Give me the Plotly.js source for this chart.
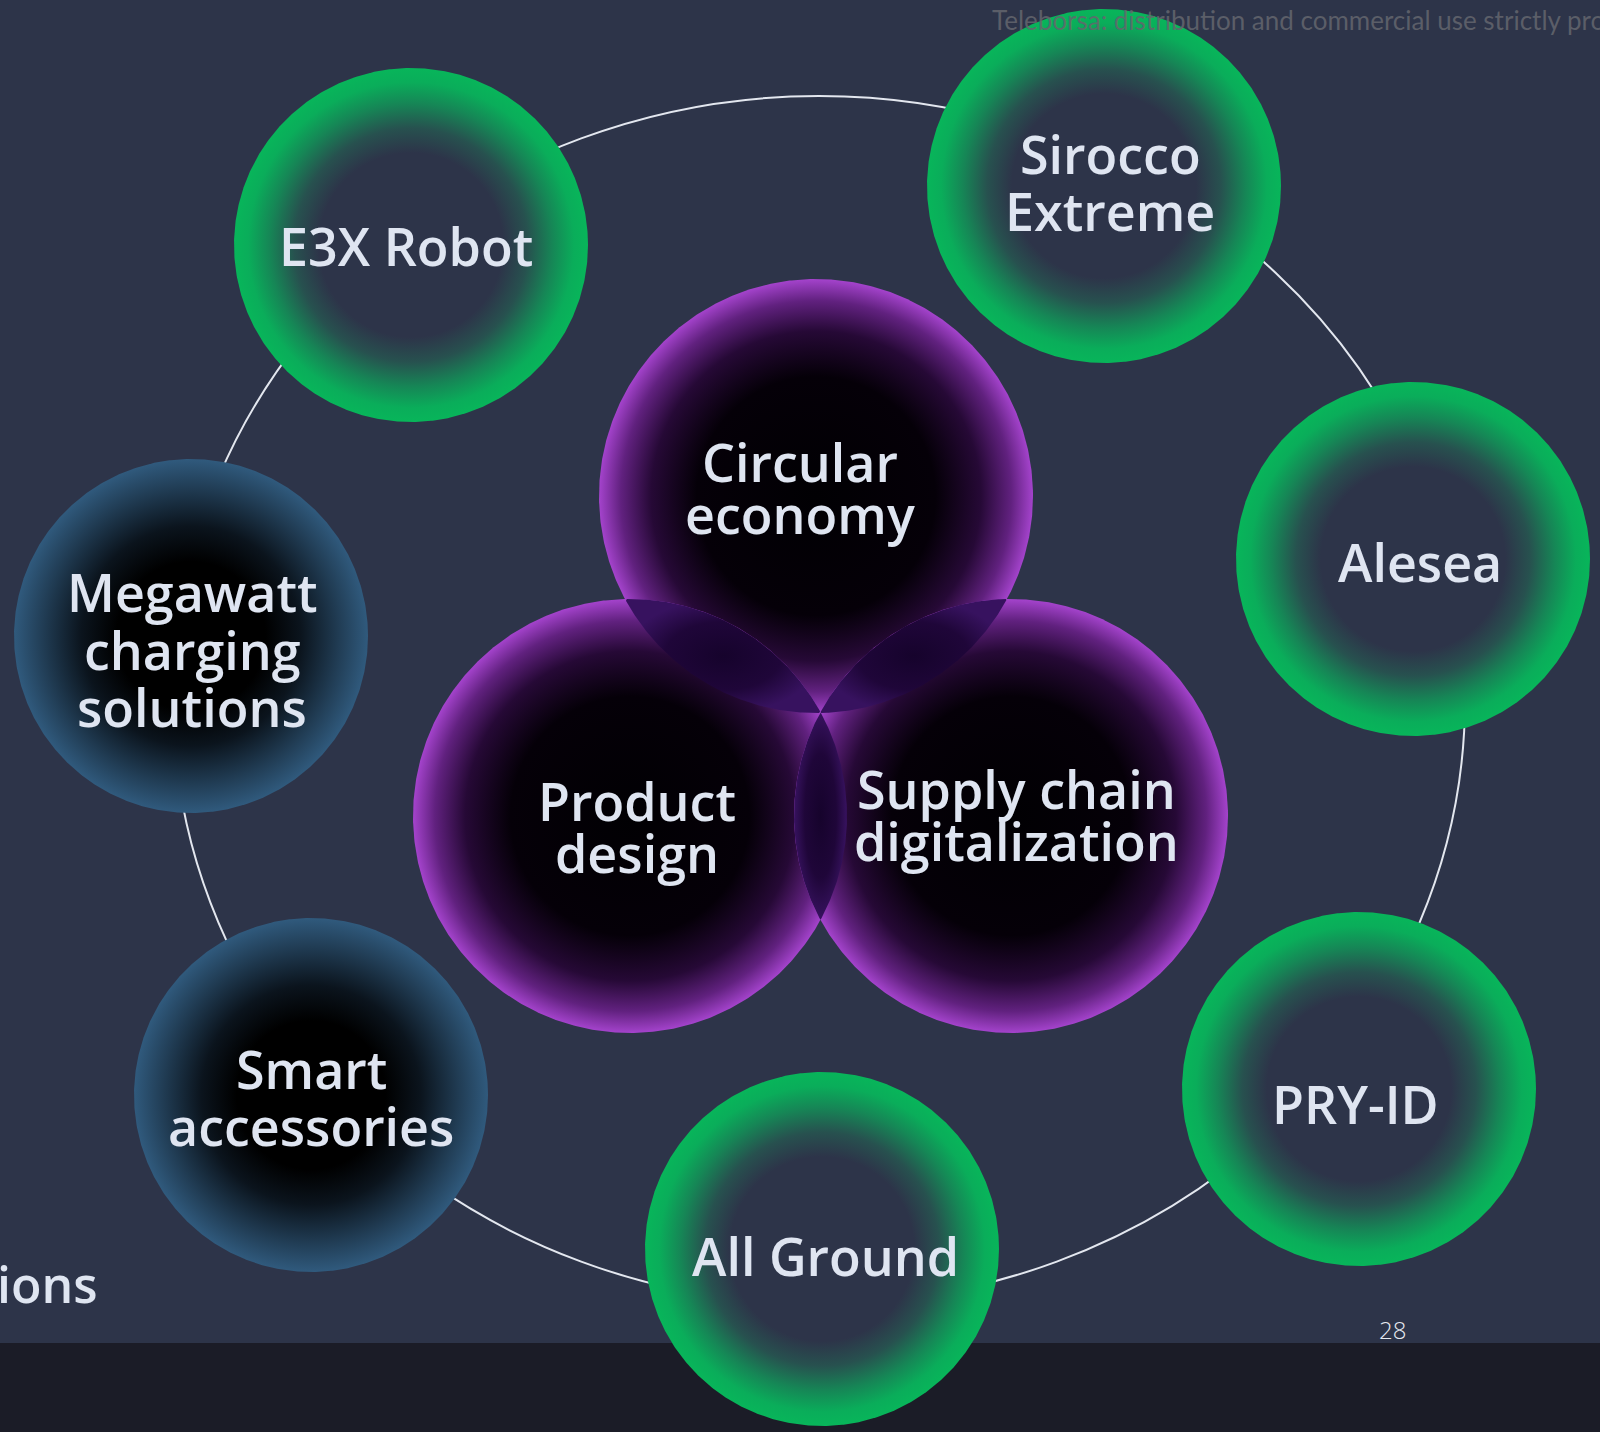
<!DOCTYPE html>
<html>
<head>
<meta charset="utf-8">
<script src="https://cdn.plot.ly/plotly-3.0.1.min.js"></script>
<style>
html,body{margin:0;padding:0;background:#2d3449;}
#chart{width:1600px;height:1432px;}
</style>
</head>
<body>
<div id="chart"></div>
<script>
// ---- Diagram content (text) ----
const purpleLabels = [["Circular", "economy"], ["Product", "design"], ["Supply chain", "digitalization"]];
const greenLabels  = [["E3X Robot"], ["Sirocco", "Extreme"], ["Alesea"], ["PRY-ID"], ["All Ground"]];
const blueLabels   = [["Megawatt", "charging", "solutions"], ["Smart", "accessories"]];
const watermarkText = "Teleborsa: distribution and commercial use strictly prohibited";
const pageNumber = "28";
const cutOffText = "ions";

// ---- Geometry (pixel space of the 1600x1432 page) ----
const purpleX = [816, 630, 1011];
const purpleY = [496, 816, 816];
const purpleTextX = [800, 637, 1016];
const purpleTextY = [487, 826, 814];

const greenX = [411, 1104, 1413, 1359, 822];
const greenY = [245, 186, 559, 1089, 1249];
const greenTextX = [406, 1110, 1420, 1355, 825];
const greenTextY = [245, 182, 561, 1103, 1255];

const blueX = [191, 311];
const blueY = [636, 1095];
const blueTextX = [192, 311];
const blueTextY = [649, 1097];

const purpleR = 217, smallR = 177;
const ring = {cx: 819, cy: 700, a: 646, b: 604};

// ---- Styles ----
const BG = '#2d3449';
const TEXT = '#dfe5f1';
const FONT = 'Open Sans, Noto Sans, sans-serif';
const FS = 52;

const greenScale = [[0, BG], [0.52, BG], [0.66, '#27514f'], [0.8, '#168656'], [0.92, '#0aad5a'], [1, '#08b55a']];
const blueScale  = [[0, '#000000'], [0.42, '#000000'], [0.62, '#0b141d'], [0.84, '#213d55'], [1, '#305a7d']];
const purpleScale = [[0, '#010003'], [0.55, '#050008'], [0.76, '#260936'], [0.9, '#61217f'], [1, '#a443cc']];
const lensScale = [[0, '#16032c'], [0.6, '#1f0639'], [1, '#37125f']];

function circlePts(cx, cy, r, t0) {
  const xs = [], ys = [], n = 720;
  for (let i = 0; i <= n; i++) {
    const t = (t0 || 0) + 2 * Math.PI * i / n;
    xs.push(cx + r * Math.cos(t));
    ys.push(cy + r * Math.sin(t));
  }
  return {xs, ys};
}

function polyTrace(xs, ys, scale) {
  return {
    type: 'scatter', x: xs, y: ys, mode: 'lines',
    line: {width: 0, color: 'rgba(0,0,0,0)'},
    fill: 'toself',
    fillgradient: {type: 'radial', colorscale: scale},
    hoverinfo: 'skip', showlegend: false
  };
}

function discTrace(cx, cy, r, scale) {
  const p = circlePts(cx, cy, r);
  return polyTrace(p.xs, p.ys, scale);
}

// arc of circle A that lies inside circle B (ordered, contiguous)
function insideArc(ax, ay, bx, by, r) {
  const away = Math.atan2(ay - by, ax - bx);
  const p = circlePts(ax, ay, r, away);
  const xs = [], ys = [];
  p.xs.forEach((x, i) => {
    const y = p.ys[i];
    if (Math.hypot(x - bx, y - by) <= r) { xs.push(x); ys.push(y); }
  });
  return {xs, ys};
}

function lensTrace(i, j) {
  const a = insideArc(purpleX[i], purpleY[i], purpleX[j], purpleY[j], purpleR);
  const b = insideArc(purpleX[j], purpleY[j], purpleX[i], purpleY[i], purpleR);
  const xs = a.xs.concat(b.xs, [a.xs[0]]);
  const ys = a.ys.concat(b.ys, [a.ys[0]]);
  return polyTrace(xs, ys, lensScale);
}

const traces = [];
greenX.forEach((x, i) => traces.push(discTrace(x, greenY[i], smallR, greenScale)));
blueX.forEach((x, i) => traces.push(discTrace(x, blueY[i], smallR, blueScale)));
purpleX.forEach((x, i) => traces.push(discTrace(x, purpleY[i], purpleR, purpleScale)));
traces.push(lensTrace(0, 1));
traces.push(lensTrace(0, 2));
traces.push(lensTrace(1, 2));

const annotations = [];
function addLines(lines, x, y, gap, size) {
  const n = lines.length;
  lines.forEach((t, k) => {
    annotations.push({
      x: x, y: y + (k - (n - 1) / 2) * gap, xref: 'x', yref: 'y',
      text: t, showarrow: false, xanchor: 'center', yanchor: 'middle',
      font: {family: FONT, size: size, color: TEXT, weight: 600}
    });
  });
}
greenLabels.forEach((l, i) => addLines(l, greenTextX[i], greenTextY[i], 57, FS));
blueLabels.forEach((l, i) => addLines(l, blueTextX[i], blueTextY[i], 57.5, FS));
purpleLabels.forEach((l, i) => addLines(l, purpleTextX[i], purpleTextY[i], 52, FS));

annotations.push({x: 990, y: 20, xref: 'x', yref: 'y', text: watermarkText, showarrow: false,
  xanchor: 'left', yanchor: 'middle', font: {family: 'Lato, Open Sans, sans-serif', size: 26, color: 'rgba(100,102,110,0.85)'}});
annotations.push({x: 1392, y: 1329, xref: 'x', yref: 'y', text: pageNumber, showarrow: false,
  xanchor: 'center', yanchor: 'middle', font: {family: FONT, size: 24, color: '#e6e9f0', weight: 300}});
annotations.push({x: 1, y: 1284, xref: 'x', yref: 'y', xshift: -6, text: cutOffText, showarrow: false,
  xanchor: 'left', yanchor: 'middle', font: {family: FONT, size: 50, color: TEXT, weight: 600}});

const shapes = [
  {type: 'rect', xref: 'x', yref: 'y', x0: 0, x1: 1600, y0: 1343, y1: 1432, fillcolor: '#1b1c27', line: {width: 0}, layer: 'below'},
  {type: 'circle', xref: 'x', yref: 'y', x0: ring.cx - ring.a, x1: ring.cx + ring.a, y0: ring.cy - ring.b, y1: ring.cy + ring.b,
   line: {color: '#e3e7ef', width: 2}, fillcolor: 'rgba(0,0,0,0)', layer: 'below'}
];

const layout = {
  width: 1600, height: 1432,
  margin: {l: 0, r: 0, t: 0, b: 0, pad: 0},
  paper_bgcolor: BG, plot_bgcolor: BG,
  xaxis: {range: [0, 1600], visible: false, fixedrange: true},
  yaxis: {range: [1432, 0], visible: false, fixedrange: true},
  showlegend: false,
  shapes: shapes,
  annotations: annotations
};

Plotly.newPlot('chart', traces, layout, {staticPlot: true, displayModeBar: false});
</script>
</body>
</html>
